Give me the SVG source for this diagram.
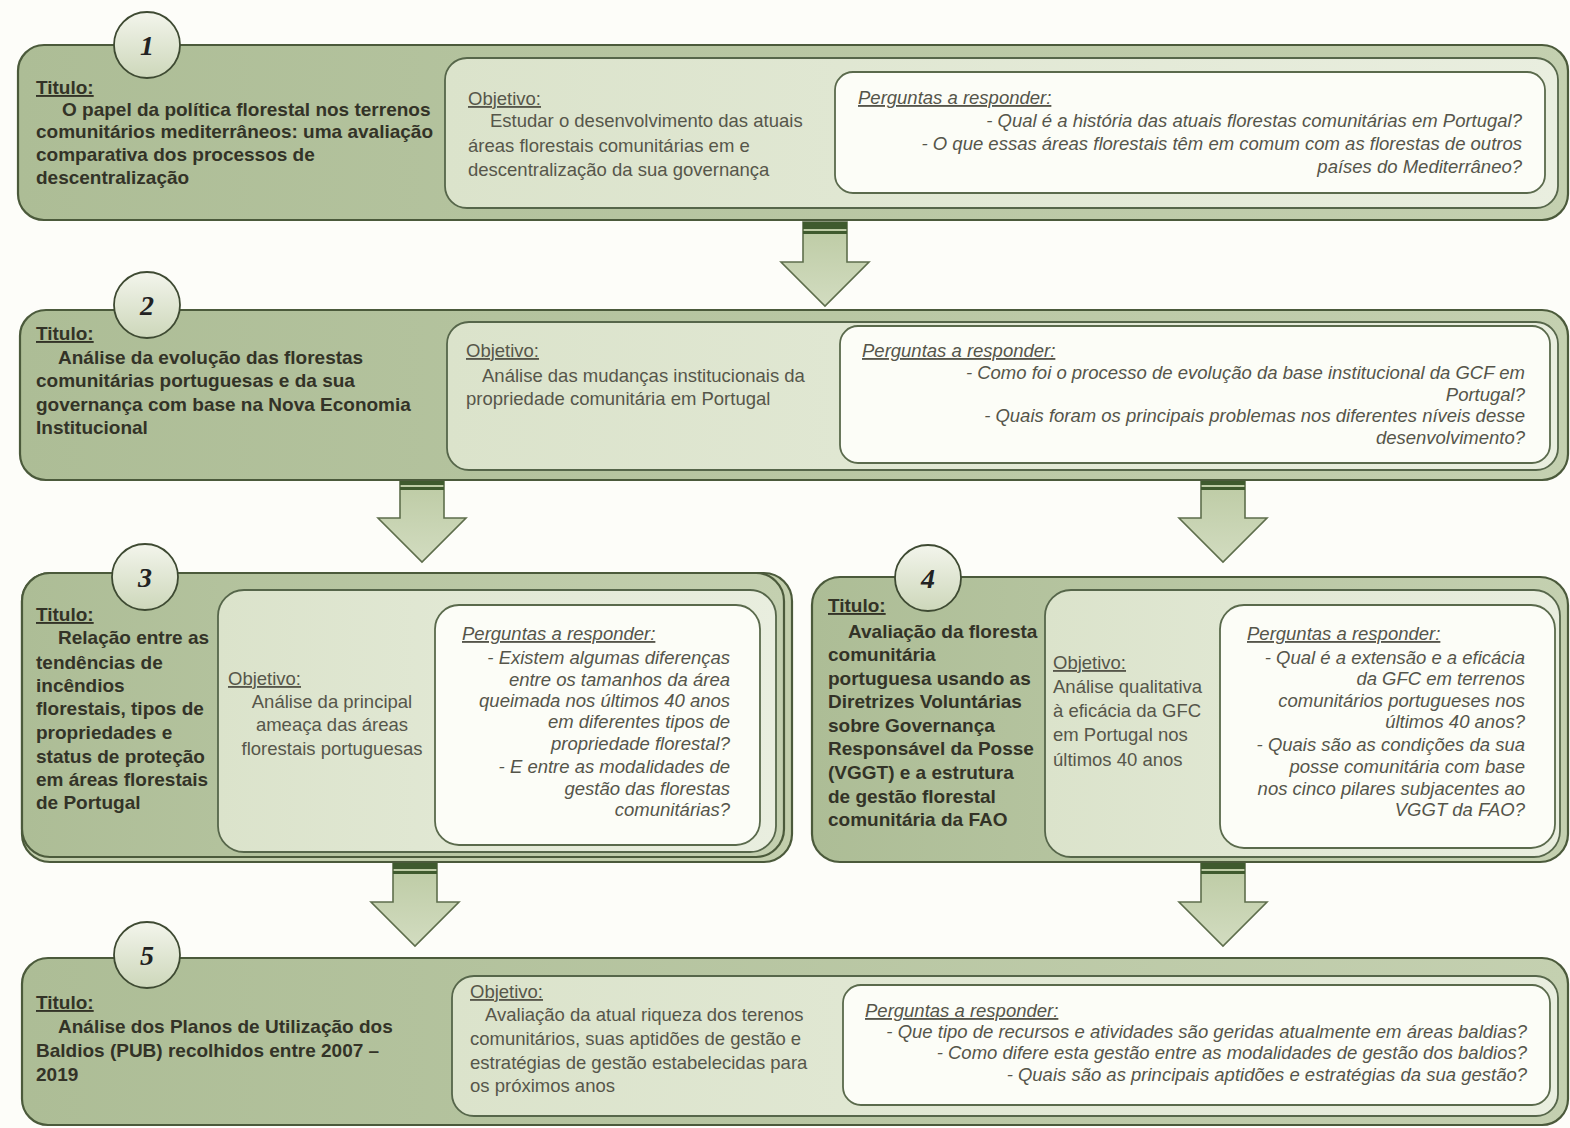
<svg xmlns="http://www.w3.org/2000/svg" width="1570" height="1128" viewBox="0 0 1570 1128">
<defs>
<linearGradient id="gOuter" x1="0" y1="0" x2="1" y2="0">
<stop offset="0" stop-color="#adbd96"/><stop offset="1" stop-color="#c4d0b0"/>
</linearGradient>
<linearGradient id="gObj" x1="0" y1="0" x2="1" y2="0">
<stop offset="0" stop-color="#dbe3cb"/><stop offset="1" stop-color="#e9eedf"/>
</linearGradient>
<linearGradient id="gCirc" x1="0" y1="0" x2="0" y2="1">
<stop offset="0" stop-color="#f3f5ec"/><stop offset="1" stop-color="#cdd7ba"/>
</linearGradient>
<linearGradient id="gArrow" x1="0" y1="0" x2="0" y2="1">
<stop offset="0" stop-color="#bccaa3"/><stop offset="1" stop-color="#d2dcc0"/>
</linearGradient>
<g id="arrow">
<polygon points="-22,0 22,0 22,40 44,40 0,84 -44,40 -22,40" fill="url(#gArrow)" stroke="#5e6e4c" stroke-width="1.6" stroke-linejoin="miter"/>
<rect x="-22" y="0" width="44" height="7" fill="#3f5a2e"/>
<rect x="-22" y="9" width="44" height="3" fill="#3f5a2e"/>
</g>
</defs>
<style>
.outer{fill:url(#gOuter);stroke:#4b5a3b;stroke-width:2.2}
.obj{fill:url(#gObj);stroke:#56664a;stroke-width:1.8}
.wbox{fill:#fcfdf7;stroke:#5a6a4c;stroke-width:1.8}
.circ{fill:url(#gCirc);stroke:#3e4a32;stroke-width:1.8}
.num{font-family:"Liberation Serif","Times New Roman",serif;font-weight:bold;font-style:italic;font-size:28px;fill:#222;text-anchor:middle}
.tl{font-family:"Liberation Sans",Arial,sans-serif;font-weight:bold;font-size:19px;fill:#333327}
.u{text-decoration:underline}
.ob{font-family:"Liberation Sans",Arial,sans-serif;font-size:18.5px;fill:#56564a}
.q{font-family:"Liberation Sans",Arial,sans-serif;font-style:italic;font-size:18.5px;fill:#55554a}
.qr{text-anchor:end}
.c{text-anchor:middle}
</style>
<rect width="1570" height="1128" fill="#fdfdf9"/>

<g id="connectors">
<use href="#arrow" x="825" y="222"/>
<use href="#arrow" x="422" y="478"/>
<use href="#arrow" x="1223" y="478"/>
<use href="#arrow" x="415" y="862"/>
<use href="#arrow" x="1223" y="862"/>
</g>

<g id="node1">
<rect class="outer" x="18" y="45" width="1550" height="175" rx="26"/>
<rect class="obj" x="445" y="58" width="1113" height="150" rx="22"/>
<rect class="wbox" x="835" y="72" width="710" height="121" rx="18"/>
<circle class="circ" cx="147" cy="45" r="33"/>
<text class="num" x="147" y="55">1</text>
<text class="tl u" x="36" y="94">Titulo:</text>
<text class="tl" x="62" y="116">O papel da política florestal nos terrenos</text>
<text class="tl" x="36" y="138">comunitários mediterrâneos: uma avaliação</text>
<text class="tl" x="36" y="161">comparativa dos processos de</text>
<text class="tl" x="36" y="184">descentralização</text>
<text class="ob u" x="468" y="105">Objetivo:</text>
<text class="ob" x="490" y="127">Estudar o desenvolvimento das atuais</text>
<text class="ob" x="468" y="152">áreas florestais comunitárias em e</text>
<text class="ob" x="468" y="176">descentralização da sua governança</text>
<text class="q u" x="858" y="104">Perguntas a responder:</text>
<text class="q qr" x="1522" y="127">- Qual é a história das atuais florestas comunitárias em Portugal?</text>
<text class="q qr" x="1522" y="150">- O que essas áreas florestais têm em comum com as florestas de outros</text>
<text class="q qr" x="1522" y="173">países do Mediterrâneo?</text>
</g>

<g id="node2">
<rect class="outer" x="20" y="310" width="1548" height="170" rx="26"/>
<rect class="obj" x="447" y="322" width="1111" height="148" rx="22"/>
<rect class="wbox" x="840" y="326" width="710" height="137" rx="18"/>
<circle class="circ" cx="147" cy="305" r="33"/>
<text class="num" x="147" y="315">2</text>
<text class="tl u" x="36" y="340">Titulo:</text>
<text class="tl" x="58" y="364">Análise da evolução das florestas</text>
<text class="tl" x="36" y="387">comunitárias portuguesas e da sua</text>
<text class="tl" x="36" y="411">governança com base na Nova Economia</text>
<text class="tl" x="36" y="434">Institucional</text>
<text class="ob u" x="466" y="357">Objetivo:</text>
<text class="ob" x="482" y="382">Análise das mudanças institucionais da</text>
<text class="ob" x="466" y="405">propriedade comunitária em Portugal</text>
<text class="q u" x="862" y="357">Perguntas a responder:</text>
<text class="q qr" x="1525" y="379">- Como foi o processo de evolução da base institucional da GCF em</text>
<text class="q qr" x="1525" y="401">Portugal?</text>
<text class="q qr" x="1525" y="422">- Quais foram os principais problemas nos diferentes níveis desse</text>
<text class="q qr" x="1525" y="444">desenvolvimento?</text>
</g>

<g id="node3">
<rect x="22" y="573" width="770" height="289" rx="28" fill="#c2ceac" stroke="#4b5a3b" stroke-width="2.2"/>
<rect class="outer" x="22" y="573" width="762" height="284" rx="28"/>
<rect class="obj" x="218" y="590" width="558" height="262" rx="26"/>
<rect class="wbox" x="435" y="605" width="325" height="240" rx="24"/>
<circle class="circ" cx="145" cy="577" r="33"/>
<text class="num" x="145" y="587">3</text>
<text class="tl u" x="36" y="621">Titulo:</text>
<text class="tl" x="58" y="644">Relação entre as</text>
<text class="tl" x="36" y="669">tendências de</text>
<text class="tl" x="36" y="692">incêndios</text>
<text class="tl" x="36" y="715">florestais, tipos de</text>
<text class="tl" x="36" y="739">propriedades e</text>
<text class="tl" x="36" y="763">status de proteção</text>
<text class="tl" x="36" y="786">em áreas florestais</text>
<text class="tl" x="36" y="809">de Portugal</text>
<text class="ob u" x="228" y="685">Objetivo:</text>
<text class="ob c" x="332" y="708">Análise da principal</text>
<text class="ob c" x="332" y="731">ameaça das áreas</text>
<text class="ob c" x="332" y="755">florestais portuguesas</text>
<text class="q u" x="462" y="640">Perguntas a responder:</text>
<text class="q qr" x="730" y="664">- Existem algumas diferenças</text>
<text class="q qr" x="730" y="686">entre os tamanhos da área</text>
<text class="q qr" x="730" y="707">queimada nos últimos 40 anos</text>
<text class="q qr" x="730" y="728">em diferentes tipos de</text>
<text class="q qr" x="730" y="750">propriedade florestal?</text>
<text class="q qr" x="730" y="773">- E entre as modalidades de</text>
<text class="q qr" x="730" y="795">gestão das florestas</text>
<text class="q qr" x="730" y="816">comunitárias?</text>
</g>

<g id="node4">
<rect class="outer" x="812" y="577" width="756" height="285" rx="28"/>
<rect class="obj" x="1045" y="590" width="515" height="267" rx="26"/>
<rect class="wbox" x="1220" y="605" width="335" height="243" rx="24"/>
<circle class="circ" cx="928" cy="578" r="33"/>
<text class="num" x="928" y="588">4</text>
<text class="tl u" x="828" y="612">Titulo:</text>
<text class="tl" x="848" y="638">Avaliação da floresta</text>
<text class="tl" x="828" y="661">comunitária</text>
<text class="tl" x="828" y="685">portuguesa usando as</text>
<text class="tl" x="828" y="708">Diretrizes Voluntárias</text>
<text class="tl" x="828" y="732">sobre Governança</text>
<text class="tl" x="828" y="755">Responsável da Posse</text>
<text class="tl" x="828" y="779">(VGGT) e a estrutura</text>
<text class="tl" x="828" y="803">de gestão florestal</text>
<text class="tl" x="828" y="826">comunitária da FAO</text>
<text class="ob u" x="1053" y="669">Objetivo:</text>
<text class="ob" x="1053" y="693">Análise qualitativa</text>
<text class="ob" x="1053" y="717">à eficácia da GFC</text>
<text class="ob" x="1053" y="741">em Portugal nos</text>
<text class="ob" x="1053" y="766">últimos 40 anos</text>
<text class="q u" x="1247" y="640">Perguntas a responder:</text>
<text class="q qr" x="1525" y="664">- Qual é a extensão e a eficácia</text>
<text class="q qr" x="1525" y="685">da GFC em terrenos</text>
<text class="q qr" x="1525" y="707">comunitários portugueses nos</text>
<text class="q qr" x="1525" y="728">últimos 40 anos?</text>
<text class="q qr" x="1525" y="751">- Quais são as condições da sua</text>
<text class="q qr" x="1525" y="773">posse comunitária com base</text>
<text class="q qr" x="1525" y="795">nos cinco pilares subjacentes ao</text>
<text class="q qr" x="1525" y="816">VGGT da FAO?</text>
</g>

<g id="node5">
<rect class="outer" x="22" y="958" width="1546" height="167" rx="26"/>
<rect class="obj" x="452" y="976" width="1106" height="140" rx="22"/>
<rect class="wbox" x="843" y="985" width="707" height="120" rx="18"/>
<circle class="circ" cx="147" cy="955" r="33"/>
<text class="num" x="147" y="965">5</text>
<text class="tl u" x="36" y="1009">Titulo:</text>
<text class="tl" x="58" y="1033">Análise dos Planos de Utilização dos</text>
<text class="tl" x="36" y="1057">Baldios (PUB) recolhidos entre 2007 –</text>
<text class="tl" x="36" y="1081">2019</text>
<text class="ob u" x="470" y="998">Objetivo:</text>
<text class="ob" x="485" y="1021">Avaliação da atual riqueza dos terenos</text>
<text class="ob" x="470" y="1045">comunitários, suas aptidões de gestão e</text>
<text class="ob" x="470" y="1069">estratégias de gestão estabelecidas para</text>
<text class="ob" x="470" y="1092">os próximos anos</text>
<text class="q u" x="865" y="1017">Perguntas a responder:</text>
<text class="q qr" x="1527" y="1038">- Que tipo de recursos e atividades são geridas atualmente em áreas baldias?</text>
<text class="q qr" x="1527" y="1059">- Como difere esta gestão entre as modalidades de gestão dos baldios?</text>
<text class="q qr" x="1527" y="1081">- Quais são as principais aptidões e estratégias da sua gestão?</text>
</g>
</svg>
